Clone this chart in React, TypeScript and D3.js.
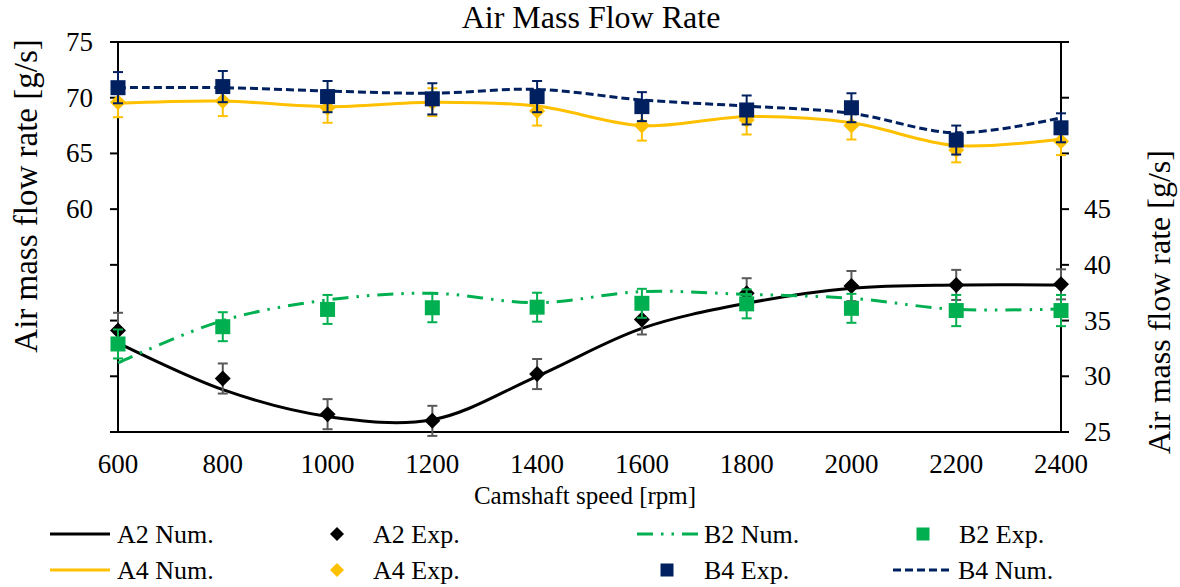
import React from "react";
import * as d3 from "d3";

// camshaft speed [rpm]
const speeds = [600, 800, 1000, 1200, 1400, 1600, 1800, 2000, 2200, 2400];

// right axis series (g/s)
const a2Num = [33.0, 28.8, 26.4, 26.1, 30.0, 34.3, 36.55, 37.9, 38.2, 38.2];
const a2Exp = [34.1, 29.8, 26.6, 26.0, 30.2, 35.1, 37.45, 38.1, 38.2, 38.25];
const a2Err = [1.6, 1.35, 1.35, 1.35, 1.35, 1.35, 1.35, 1.35, 1.35, 1.35];
const b2Num = [31.2, 35.0, 36.85, 37.45, 36.6, 37.6, 37.35, 37.0, 36.0, 36.05];
const b2Exp = [32.9, 34.45, 36.0, 36.15, 36.2, 36.55, 36.5, 36.1, 35.9, 35.9];
const b2Err = [1.3, 1.3, 1.3, 1.3, 1.3, 1.3, 1.3, 1.3, 1.4, 1.4];

// left axis series (g/s)
const a4Num = [69.5, 69.7, 69.2, 69.6, 69.25, 67.5, 68.3, 67.75, 65.7, 66.3];
const a4Exp = [69.6, 69.7, 69.1, 69.6, 68.8, 67.5, 68.0, 67.5, 65.3, 66.1];
const a4Err = [1.35, 1.35, 1.35, 1.25, 1.3, 1.35, 1.3, 1.25, 1.1, 1.25];
const b4Num = [70.9, 70.9, 70.6, 70.4, 70.75, 69.8, 69.25, 68.6, 66.85, 68.2];
const b4Exp = [70.9, 71.0, 70.1, 69.9, 70.1, 69.2, 68.9, 69.1, 66.2, 67.3];
const b4Err = [1.4, 1.4, 1.4, 1.4, 1.4, 1.3, 1.3, 1.3, 1.3, 1.3];

const leftTicks = [40, 45, 50, 55, 60, 65, 70, 75];
const leftLabels = [60, 65, 70, 75];
const rightTicks = [25, 30, 35, 40, 45, 50, 55, 60];
const rightLabels = [25, 30, 35, 40, 45];

const BLACK = "#000000";
const GRAY = "#595959";
const GREEN = "#00B050";
const GOLD = "#FFC000";
const NAVY = "#002060";
const FONT = "'Liberation Serif', 'Times New Roman', serif";

const W = 1180;
const H = 587;
const m = { l: 118, r: 1061, t: 42, b: 432 };

const x = d3.scaleLinear().domain([600, 2400]).range([m.l, m.r]);
const yL = d3.scaleLinear().domain([40, 75]).range([m.b, m.t]);
const yR = d3.scaleLinear().domain([25, 60]).range([m.b, m.t]);

const lineFor = (y: d3.ScaleLinear<number, number>) =>
  d3
    .line<number>()
    .x((_, i) => x(speeds[i]))
    .y(d => y(d))
    .curve(d3.curveCatmullRom.alpha(0.5));

const diamond = (cx: number, cy: number, r: number) =>
  `M${cx},${cy - r}L${cx + r},${cy}L${cx},${cy + r}L${cx - r},${cy}Z`;

function ErrorBars({ vals, errs, y, color }: any) {
  return (
    <g stroke={color} strokeWidth={2} fill="none">
      {vals.map((v: number, i: number) => {
        const cx = x(speeds[i]);
        const t = y(v + errs[i]);
        const b = y(v - errs[i]);
        return (
          <g key={i}>
            <line x1={cx} x2={cx} y1={t} y2={b} />
            <line x1={cx - 5} x2={cx + 5} y1={t} y2={t} />
            <line x1={cx - 5} x2={cx + 5} y1={b} y2={b} />
          </g>
        );
      })}
    </g>
  );
}

function Diamonds({ vals, y, color }: any) {
  return (
    <g fill={color}>
      {vals.map((v: number, i: number) => (
        <path key={i} d={diamond(x(speeds[i]), y(v), 8)} />
      ))}
    </g>
  );
}

function Squares({ vals, y, color }: any) {
  return (
    <g fill={color}>
      {vals.map((v: number, i: number) => (
        <rect key={i} x={x(speeds[i]) - 7.5} y={y(v) - 7.5} width={15} height={15} />
      ))}
    </g>
  );
}

function LegendText({ tx, ty, label }: any) {
  return (
    <text x={tx} y={ty} fontSize={26} dominantBaseline="central" fill="#000">
      {label}
    </text>
  );
}

export default function App() {
  const lineL = lineFor(yL);
  const lineR = lineFor(yR);
  const r1 = 534;
  const r2 = 570;

  return (
    <svg
      width={W}
      height={H}
      style={{ position: "absolute", left: 0, top: 0, background: "#fff" }}
      fontFamily={FONT}
    >
      <rect width={W} height={H} fill="#fff" />

      {/* title */}
      <text x={591} y={28} textAnchor="middle" fontSize={32}>
        Air Mass Flow Rate
      </text>

      {/* frame */}
      <g stroke="#000" strokeWidth={2} fill="none">
        <line x1={m.l} x2={m.r} y1={m.t} y2={m.t} />
        <line x1={m.l} x2={m.r} y1={m.b} y2={m.b} />
        <line x1={m.l} x2={m.l} y1={m.t} y2={m.b} />
        <line x1={m.r} x2={m.r} y1={m.t} y2={m.b} />
        {leftTicks.map(t => (
          <line key={"l" + t} x1={m.l - 8} x2={m.l} y1={yL(t)} y2={yL(t)} />
        ))}
        {rightTicks.map(t => (
          <line key={"r" + t} x1={m.r} x2={m.r + 8} y1={yR(t)} y2={yR(t)} />
        ))}
      </g>

      {/* tick labels */}
      <g fontSize={27} fill="#000">
        {leftLabels.map(t => (
          <text key={t} x={93} y={yL(t)} textAnchor="end" dominantBaseline="central">
            {t}
          </text>
        ))}
        {rightLabels.map(t => (
          <text key={t} x={1084} y={yR(t)} dominantBaseline="central">
            {t}
          </text>
        ))}
        {speeds.map(s => (
          <text key={s} x={x(s)} y={473} textAnchor="middle">
            {s}
          </text>
        ))}
      </g>

      {/* axis titles */}
      <text x={585} y={504} textAnchor="middle" fontSize={25}>
        Camshaft speed [rpm]
      </text>
      <text
        transform={`translate(37,196) rotate(-90)`}
        textAnchor="middle"
        fontSize={33}
      >
        Air mass flow rate [g/s]
      </text>
      <text
        transform={`translate(1170,302) rotate(-90)`}
        textAnchor="middle"
        fontSize={32}
      >
        Air mass flow rate [g/s]
      </text>

      {/* A2 */}
      <path d={lineR(a2Num) || ""} fill="none" stroke={BLACK} strokeWidth={3} />
      <ErrorBars vals={a2Exp} errs={a2Err} y={yR} color={GRAY} />
      <Diamonds vals={a2Exp} y={yR} color={BLACK} />

      {/* B2 */}
      <path
        d={lineR(b2Num) || ""}
        fill="none"
        stroke={GREEN}
        strokeWidth={3}
        strokeDasharray="16 8 2.5 8 2.5 8"
      />
      <ErrorBars vals={b2Exp} errs={b2Err} y={yR} color={GREEN} />
      <Squares vals={b2Exp} y={yR} color={GREEN} />

      {/* A4 */}
      <path d={lineL(a4Num) || ""} fill="none" stroke={GOLD} strokeWidth={3} />
      <ErrorBars vals={a4Exp} errs={a4Err} y={yL} color={GOLD} />
      <Diamonds vals={a4Exp} y={yL} color={GOLD} />

      {/* B4 */}
      <ErrorBars vals={b4Exp} errs={b4Err} y={yL} color={NAVY} />
      <Squares vals={b4Exp} y={yL} color={NAVY} />
      <path
        d={lineL(b4Num) || ""}
        fill="none"
        stroke={NAVY}
        strokeWidth={3}
        strokeDasharray="8 4"
      />

      {/* legend */}
      <g>
        <line x1={50} x2={110} y1={r1} y2={r1} stroke={BLACK} strokeWidth={3} />
        <LegendText tx={117} ty={r1} label="A2 Num." />
        <path d={diamond(337, r1, 7)} fill={BLACK} />
        <LegendText tx={373} ty={r1} label="A2 Exp." />
        <line
          x1={637}
          x2={698}
          y1={r1}
          y2={r1}
          stroke={GREEN}
          strokeWidth={3}
          strokeDasharray="16 8 2.5 8 2.5 8"
        />
        <LegendText tx={704} ty={r1} label="B2 Num." />
        <rect x={923 - 6.5} y={r1 - 6.5} width={13} height={13} fill={GREEN} />
        <LegendText tx={959} ty={r1} label="B2 Exp." />

        <line x1={50} x2={110} y1={r2} y2={r2} stroke={GOLD} strokeWidth={3} />
        <LegendText tx={117} ty={r2} label="A4 Num." />
        <path d={diamond(337, r2, 7)} fill={GOLD} />
        <LegendText tx={373} ty={r2} label="A4 Exp." />
        <rect x={667 - 6.5} y={r2 - 6.5} width={13} height={13} fill={NAVY} />
        <LegendText tx={704} ty={r2} label="B4 Exp." />
        <line
          x1={893}
          x2={952}
          y1={r2}
          y2={r2}
          stroke={NAVY}
          strokeWidth={3}
          strokeDasharray="8 4"
        />
        <LegendText tx={958} ty={r2} label="B4 Num." />
      </g>
    </svg>
  );
}
